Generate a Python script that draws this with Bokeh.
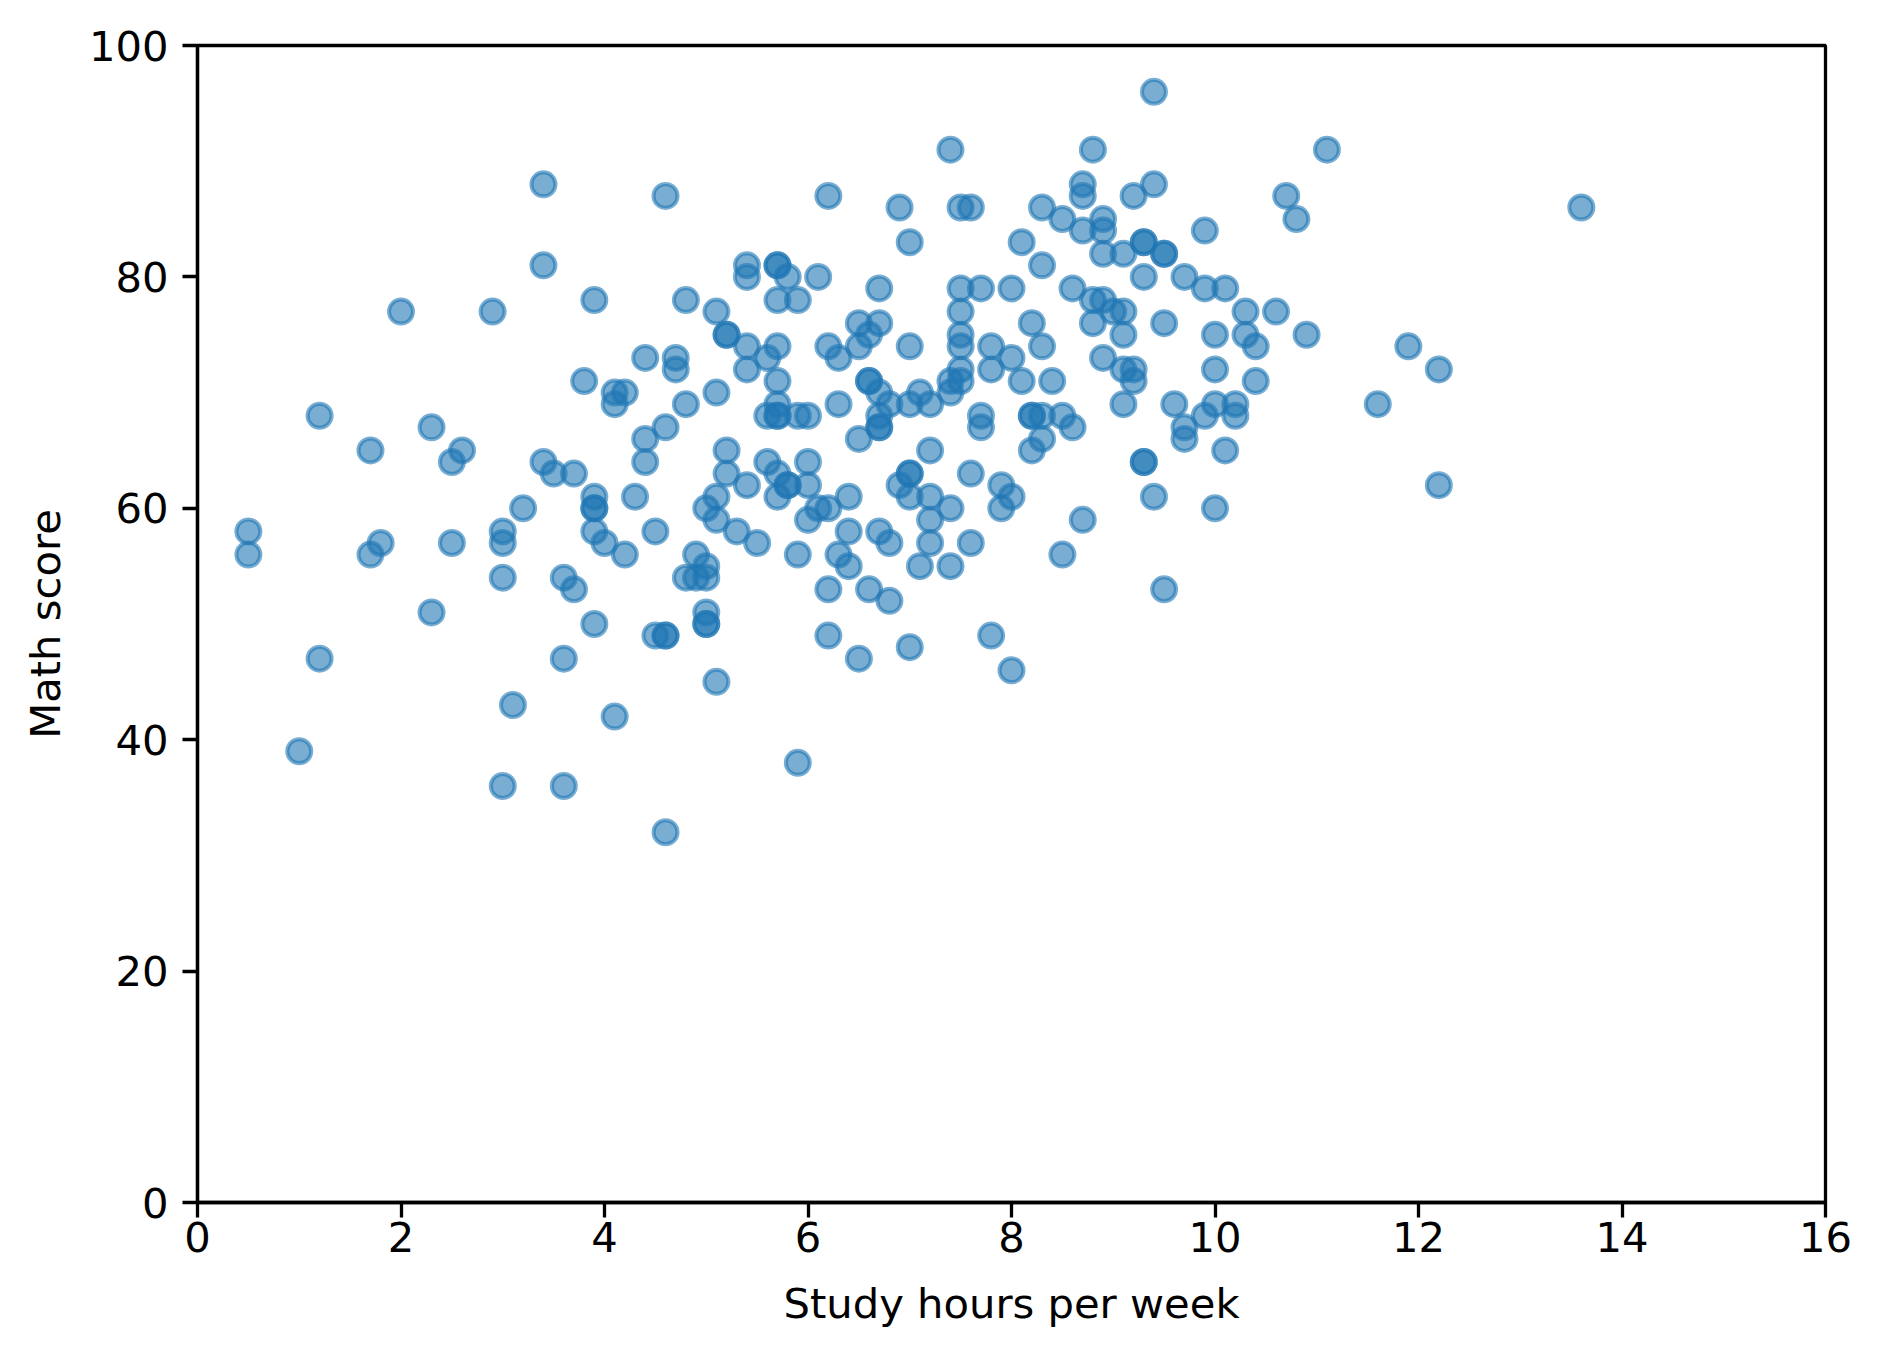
from bokeh.plotting import figure
from bokeh.models import Range1d, FixedTicker, ColumnDataSource
from bokeh.embed import file_html
from bokeh.resources import INLINE

# Study hours per week (x) and Math score (y)
hours = [
    0.5, 0.5, 1.0, 1.2, 1.2, 1.7, 1.7, 1.8, 2.0, 2.3, 2.3, 2.5, 2.5, 2.6, 2.9,
    3.0, 3.0, 3.0, 3.0, 3.1, 3.2, 3.4, 3.4, 3.4, 3.5, 3.6, 3.6, 3.6, 3.7, 3.7,
    3.8, 3.9, 3.9, 3.9, 3.9, 3.9, 3.9, 4.0, 4.1, 4.1, 4.1, 4.2, 4.2, 4.3,
    4.4, 4.4, 4.4, 4.5, 4.5, 4.6, 4.6, 4.6, 4.6, 4.6, 4.7, 4.7, 4.8, 4.8, 4.8,
    4.9, 4.9, 5.0, 5.0, 5.0, 5.0, 5.0, 5.0, 5.1, 5.1, 5.1, 5.1, 5.1,
    5.2, 5.2, 5.2, 5.2, 5.3, 5.4, 5.4, 5.4, 5.4, 5.4, 5.5, 5.6, 5.6, 5.6,
    5.7, 5.7, 5.7, 5.7, 5.7, 5.7, 5.7, 5.7, 5.7, 5.7, 5.8, 5.8, 5.8,
    5.9, 5.9, 5.9, 5.9, 6.0, 6.0, 6.0, 6.0, 6.1, 6.1, 6.2, 6.2, 6.2, 6.2, 6.2,
    6.3, 6.3, 6.3, 6.4, 6.4, 6.4, 6.5, 6.5, 6.5, 6.5, 6.6, 6.6, 6.6, 6.6,
    6.7, 6.7, 6.7, 6.7, 6.7, 6.7, 6.7, 6.8, 6.8, 6.8, 6.9, 6.9,
    7.0, 7.0, 7.0, 7.0, 7.0, 7.0, 7.0, 7.1, 7.1, 7.2, 7.2, 7.2, 7.2, 7.2,
    7.4, 7.4, 7.4, 7.4, 7.4, 7.5, 7.5, 7.5, 7.5, 7.5, 7.5, 7.5,
    7.6, 7.6, 7.6, 7.7, 7.7, 7.7, 7.8, 7.8, 7.8, 7.9, 7.9,
    8.0, 8.0, 8.0, 8.0, 8.1, 8.1, 8.2, 8.2, 8.2, 8.2, 8.3, 8.3, 8.3, 8.3, 8.3,
    8.4, 8.5, 8.5, 8.5, 8.6, 8.6, 8.7, 8.7, 8.7, 8.7, 8.8, 8.8, 8.8,
    8.9, 8.9, 8.9, 8.9, 8.9, 9.0, 9.1, 9.1, 9.1, 9.1, 9.1, 9.2, 9.2, 9.2,
    9.3, 9.3, 9.3, 9.3, 9.3, 9.4, 9.4, 9.4, 9.5, 9.5, 9.5, 9.5, 9.6,
    9.7, 9.7, 9.7, 9.9, 9.9, 9.9, 10.0, 10.0, 10.0, 10.0, 10.1, 10.1,
    10.2, 10.2, 10.3, 10.3, 10.4, 10.4, 10.6, 10.7, 10.8, 10.9, 11.1,
    11.6, 11.9, 12.2, 12.2, 13.6,
]
scores = [
    58, 56, 39, 68, 47, 65, 56, 57, 77, 67, 51, 64, 57, 65, 77,
    58, 57, 54, 36, 43, 60, 88, 81, 64, 63, 54, 47, 36, 63, 53,
    71, 78, 61, 60, 60, 58, 50, 57, 70, 69, 42, 70, 56, 61,
    73, 66, 64, 58, 49, 87, 67, 49, 49, 32, 73, 72, 78, 69, 54,
    56, 54, 60, 55, 54, 51, 50, 50, 77, 70, 61, 59, 45,
    75, 75, 65, 63, 58, 81, 80, 74, 72, 62, 57, 73, 68, 64,
    81, 81, 78, 74, 71, 69, 68, 68, 63, 61, 80, 62, 62,
    78, 68, 56, 38, 68, 64, 62, 59, 80, 60, 87, 74, 60, 53, 49,
    73, 69, 56, 61, 58, 55, 76, 74, 66, 47, 75, 71, 71, 53,
    79, 76, 70, 68, 67, 67, 58, 69, 57, 52, 86, 62,
    83, 74, 69, 63, 63, 61, 48, 70, 55, 69, 65, 61, 59, 57,
    91, 71, 70, 60, 55, 86, 79, 77, 75, 74, 72, 71,
    86, 63, 57, 79, 68, 67, 74, 72, 49, 62, 60,
    79, 73, 61, 46, 83, 71, 76, 68, 68, 65, 86, 81, 74, 68, 66,
    71, 85, 68, 56, 79, 67, 88, 87, 84, 59, 91, 78, 76,
    85, 84, 82, 78, 73, 77, 82, 77, 75, 72, 69, 87, 72, 71,
    83, 83, 80, 64, 64, 96, 88, 61, 82, 82, 76, 53, 69,
    80, 67, 66, 84, 79, 68, 75, 72, 69, 60, 79, 65,
    69, 68, 77, 75, 74, 71, 77, 87, 85, 75, 91,
    69, 74, 72, 62, 86,
]

x_ticks = [0, 2, 4, 6, 8, 10, 12, 14, 16]
y_ticks = [0, 20, 40, 60, 80, 100]

source = ColumnDataSource(data=dict(hours=hours, scores=scores))

FONT = "DejaVu Sans"
FS = "41.7px"
LW = 3.3

p = figure(
    frame_width=1628, frame_height=1157,
    min_border_left=197, min_border_right=48,
    min_border_top=45, min_border_bottom=151,
    x_range=Range1d(0, 16), y_range=Range1d(0, 100),
    output_backend="svg", toolbar_location=None,
)
p.background_fill_color = "white"
p.border_fill_color = "white"
p.outline_line_color = "black"
p.outline_line_width = LW
p.xgrid.visible = False
p.ygrid.visible = False

p.scatter(
    "hours", "scores", source=source, size=24,
    fill_color="#1f77b4", fill_alpha=0.6,
    line_color="#1f77b4", line_alpha=0.6, line_width=4,
)

p.xaxis.ticker = FixedTicker(ticks=x_ticks)
p.yaxis.ticker = FixedTicker(ticks=y_ticks)
p.xaxis.axis_label = "Study hours per week"
p.yaxis.axis_label = "Math score"

for ax in (p.xaxis, p.yaxis):
    ax.axis_line_width = LW
    ax.axis_line_color = "black"
    ax.major_tick_line_width = LW
    ax.major_tick_line_color = "black"
    ax.major_tick_out = 15
    ax.major_tick_in = 0
    ax.minor_tick_line_color = None
    ax.major_label_text_font = FONT
    ax.major_label_text_font_size = FS
    ax.major_label_text_color = "black"
    ax.axis_label_text_font = FONT
    ax.axis_label_text_font_size = FS
    ax.axis_label_text_font_style = "normal"
    ax.axis_label_text_color = "black"

p.yaxis.major_label_standoff = 14
p.yaxis.axis_label_standoff = 16
p.xaxis.major_label_standoff = 4
p.xaxis.axis_label_standoff = 24

open("out.html", "w").write(file_html(p, INLINE))
